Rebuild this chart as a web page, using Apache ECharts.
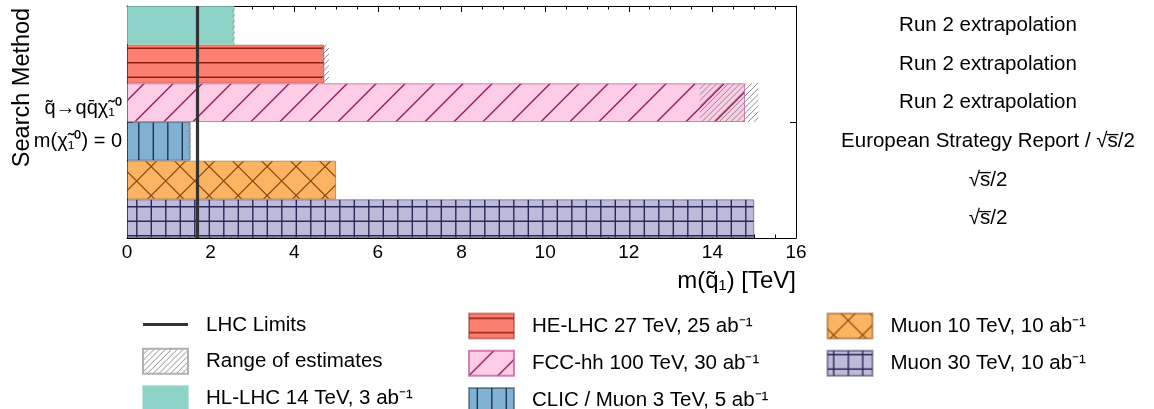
<!DOCTYPE html>
<html><head><meta charset="utf-8">
<script src="https://cdn.jsdelivr.net/npm/echarts@6/dist/echarts.min.js"></script>
<style>html,body{margin:0;padding:0;background:#fff}#c{width:1154px;height:409px}</style>
</head><body><div id="c"></div>
<script>
// ---- data ----
const categories = ['HL-LHC 14 TeV, 3 ab⁻¹', 'HE-LHC 27 TeV, 25 ab⁻¹', 'FCC-hh 100 TeV, 30 ab⁻¹',
  'CLIC / Muon 3 TeV, 5 ab⁻¹', 'Muon 10 TeV, 10 ab⁻¹', 'Muon 30 TeV, 10 ab⁻¹'];
const reach = [2.57, 4.72, 14.78, 1.52, 5.0, 15.0];
const rangeLow = [2.52, 4.63, 13.7, 1.45, null, null];
const rangeHigh = [2.58, 4.83, 15.1, 1.52, null, null];
const notes = ['Run 2 extrapolation', 'Run 2 extrapolation', 'Run 2 extrapolation',
  'European Strategy Report / √s̅/2', '√s̅/2', '√s̅/2'];
const lhcLimit = 1.68;
const xTicks = [0, 2, 4, 6, 8, 10, 12, 14, 16];
const processLines = ['q̃→qq̄χ̃₁⁰', 'm(χ̃₁⁰) = 0'];
const xTitle = 'm(q̃₁) [TeV]';
const yTitle = 'Search Method';

// ---- hatch patterns ----
function pat(bg, stroke, lw, draw) {
  const c = document.createElement('canvas');
  c.width = 29; c.height = 29;
  const g = c.getContext('2d');
  if (bg) { g.fillStyle = bg; g.fillRect(0, 0, 29, 29); }
  g.strokeStyle = stroke; g.lineWidth = lw; g.beginPath();
  draw(g);
  g.stroke();
  return { image: c, repeat: 'repeat' };
}
function diag(g, c) { for (const k of [-58, -29, 0, 29, 58]) { const d = c + k; g.moveTo(d + 2, -2); g.lineTo(d - 31, 31); } }
function anti(g, c) { for (const k of [-58, -29, 0, 29, 58]) { const d = c + k; g.moveTo(d - 2, -2); g.lineTo(d + 31, 31); } }
const fills = [
  '#8dd3c7',
  pat('#fb8072', '#8e1f12', 1.4, g => { for (const y of [4.75, 19.25]) { g.moveTo(0, y); g.lineTo(29, y); } }),
  pat('#fccde5', '#9c1b5e', 1.4, g => diag(g, 24.7)),
  pat('#80b1d3', '#1d3650', 1.4, g => { for (const x of [8.3, 22.8]) { g.moveTo(x, 0); g.lineTo(x, 29); } }),
  pat('#fdb462', '#8a4a10', 1.2, g => { diag(g, 27.7); anti(g, 13.7); }),
  pat('#bebada', '#2a2856', 1.4, g => { for (const x of [6.3, 20.8]) { g.moveTo(x, 0); g.lineTo(x, 29); } for (const y of [3.7, 18.2]) { g.moveTo(0, y); g.lineTo(29, y); } })
];
const edges = ['rgba(141,211,199,0.6)', 'rgba(142,31,18,0.45)', 'rgba(200,80,150,0.7)', 'rgba(29,54,80,0.5)', 'rgba(138,74,16,0.5)', 'rgba(42,40,86,0.5)'];
const rangeFill = pat(null, '#8c8c8c', 1, g => { for (const c of [0, 5.8, 11.6, 17.4, 23.2]) diag(g, c); });

const font = '"Liberation Sans", Arial, sans-serif';
const barSeries = categories.map((name, i) => ({
  name, type: 'bar', xAxisIndex: 0, yAxisIndex: 0,
  barGap: '-100%', barCategoryGap: '0%',
  data: categories.map((_, j) => j === i ? reach[i] : '-'),
  itemStyle: { color: fills[i], borderColor: edges[i], borderWidth: 1 },
  emphasis: { disabled: true }, silent: true, z: 2
}));
const rangeData = [];
rangeLow.forEach((lo, i) => { if (lo != null) rangeData.push([lo, rangeHigh[i], i]); });

const axisBlack = { lineStyle: { color: '#000', width: 1 } };
const option = {
  animation: false,
  textStyle: { fontFamily: font, color: '#000' },
  grid: { left: 127, right: 358, top: 6, bottom: 171, containLabel: false, outerBoundsMode: 'none' },
  xAxis: [
    { type: 'value', position: 'bottom', min: xTicks[0], max: xTicks[xTicks.length - 1], interval: 2,
      axisLine: { show: true, onZero: false, ...axisBlack },
      axisTick: { show: true, inside: true, length: 6, ...axisBlack },
      minorTick: { show: true, splitNumber: 4, length: 3.5, lineStyle: { color: '#000' } },
      splitLine: { show: false }, minorSplitLine: { show: false },
      axisLabel: { color: '#000', fontSize: 19, margin: 5, fontFamily: font },
      name: xTitle, nameLocation: 'end', nameGap: 0, nameMoveOverlap: false,
      nameTextStyle: { fontSize: 24, color: '#000', align: 'right', verticalAlign: 'top', padding: [31, 0, 0, 0], fontFamily: font } },
    { type: 'value', position: 'top', min: xTicks[0], max: xTicks[xTicks.length - 1], interval: 2,
      axisLine: { show: true, onZero: false, ...axisBlack },
      axisTick: { show: true, inside: true, length: 6, ...axisBlack },
      minorTick: { show: true, splitNumber: 4, length: 3.5, lineStyle: { color: '#000' } },
      splitLine: { show: false }, axisLabel: { show: false } }
  ],
  yAxis: [
    { type: 'category', data: categories, inverse: true, position: 'left',
      axisLine: { show: true, onZero: false, ...axisBlack }, axisTick: { show: false },
      axisLabel: { show: false }, splitLine: { show: false } },
    { type: 'category', data: categories, inverse: true, position: 'right',
      axisLine: { show: true, onZero: false, ...axisBlack }, axisTick: { show: false },
      axisLabel: { show: true, interval: 0, formatter: (v, i) => notes[i], align: 'center', margin: 192,
        fontSize: 20.5, color: '#000', fontFamily: font },
      splitLine: { show: false } },
    { type: 'value', min: 0, max: 1, interval: 0.5, position: 'left',
      axisLine: { show: false, onZero: false }, splitLine: { show: false },
      axisTick: { show: true, inside: true, length: 6, ...axisBlack },
      axisLabel: { show: true, margin: 5, color: '#000', fontFamily: font, align: 'right',
        formatter: v => (v === 0.5 ? '{s| }\n{a|' + processLines[0] + '}\n{a|' + processLines[1] + '}' : ''),
        rich: { s: { fontSize: 4, lineHeight: 6 }, a: { fontSize: 20, lineHeight: 33, color: '#000', fontFamily: font } } },
      name: yTitle, nameLocation: 'middle', nameGap: 92, nameRotate: 90, nameMoveOverlap: false,
      nameTextStyle: { fontSize: 23.5, color: '#000', padding: [0, 0, 0, 69], fontFamily: font } },
    { type: 'value', min: 0, max: 1, interval: 0.5, position: 'right',
      axisLine: { show: false, onZero: false }, splitLine: { show: false },
      axisTick: { show: true, inside: true, length: 6, ...axisBlack },
      axisLabel: { show: false } }
  ],
  legend: [
    { data: [{ name: 'LHC Limits', icon: 'path://M0,0L0.01,0L0.01,0.01Z M0,10.5L45,10.5L45,13.5L0,13.5Z M44.99,24.99L45,24.99L45,25Z', itemStyle: { color: '#333', borderWidth: 0 } },
             { name: 'Range of estimates', icon: 'rect' }, { name: categories[0], icon: 'rect' }],
      left: 142 },
    { data: [1, 2, 3].map(i => ({ name: categories[i], icon: 'rect' })), left: 468 },
    { data: [4, 5].map(i => ({ name: categories[i], icon: 'rect' })), left: 826.5 }
  ].map(l => Object.assign(l, {
    orient: 'vertical', top: 312.5, height: 200, padding: 0,
    itemWidth: 45, itemHeight: 25, itemGap: 10.3, selectedMode: false,
    textStyle: { fontSize: 20.5, lineHeight: 25, color: '#000', fontFamily: font, padding: [0, 0, 0, 13] }
  })),
  series: [
    ...barSeries,
    { name: 'Range of estimates', type: 'custom', xAxisIndex: 0, yAxisIndex: 0, z: 3, silent: true,
      itemStyle: { color: rangeFill, borderColor: '#b0b0b0', borderWidth: 1 },
      encode: { x: [0, 1], y: 2 },
      data: rangeData,
      renderItem: (params, api) => {
        const p0 = api.coord([api.value(0), api.value(2)]);
        const p1 = api.coord([api.value(1), api.value(2)]);
        const h = api.size([0, 1])[1];
        return { type: 'rect', shape: { x: p0[0], y: p0[1] - h / 2, width: p1[0] - p0[0], height: h },
          style: { fill: rangeFill, stroke: null } };
      } },
    { name: 'LHC Limits', type: 'line', xAxisIndex: 0, yAxisIndex: 0, z: 5, color: '#333',
      data: [], symbol: 'none', silent: true,
      markLine: { symbol: 'none', silent: true, label: { show: false }, animation: false,
        lineStyle: { color: '#333', width: 3.2, type: 'solid' }, emphasis: { disabled: true },
        data: [{ xAxis: lhcLimit }] } }
  ]
};
const chart = echarts.init(document.getElementById('c'), null, { renderer: 'canvas' });
chart.setOption(option);
</script>
</body></html>
